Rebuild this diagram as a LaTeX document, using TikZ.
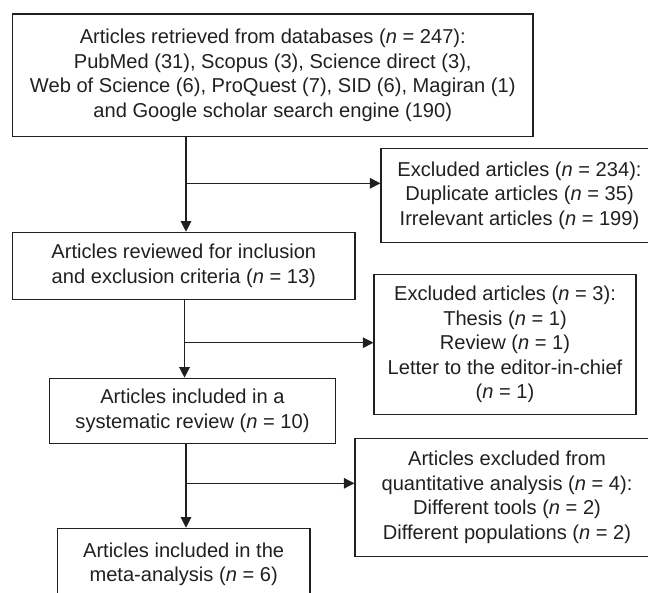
\documentclass[tikz,border=0pt]{standalone}
\usepackage{fontspec}
\setmainfont{Liberation Sans}
\usetikzlibrary{arrows.meta}
\definecolor{ink}{HTML}{231F20}
\begin{document}
\begin{tikzpicture}[x=1pt,y=-1pt,
  box/.style={draw=ink, line width=1.2pt, inner sep=0pt, align=center, text=ink,
    font=\fontsize{20.1}{24.5}\selectfont},
  arr/.style={draw=ink, line width=1.2pt, -{Triangle[length=10.5pt,width=10.5pt]}}]
\useasboundingbox (0,0) rectangle (648,592);
\node[box, minimum width=520.5pt, minimum height=122.5pt] (b1) at (272.75,75.25)
  {Articles retrieved from databases (\textit{n} = 247):\\
   PubMed (31), Scopus (3), Science direct (3),\\
   Web of Science (6), ProQuest (7), SID (6), Magiran (1)\\
   and Google scholar search engine (190)};
\node[box, minimum width=277pt, minimum height=94.4pt] (e1) at (519.5,195.5)
  {Excluded articles (\textit{n} = 234):\\
   Duplicate articles (\textit{n} = 35)\\
   Irrelevant articles (\textit{n} = 199)};
\node[box, minimum width=342.3pt, minimum height=67pt] (b2) at (183.85,265.8)
  {Articles reviewed for inclusion\\
   and exclusion criteria (\textit{n} = 13)};
\node[box, minimum width=262pt, minimum height=140pt] (e2) at (505,344.3)
  {Excluded articles (\textit{n} = 3):\\
   Thesis (\textit{n} = 1)\\
   Review (\textit{n} = 1)\\
   Letter to the editor-in-chief\\
   (\textit{n} = 1)};
\node[box, minimum width=285.7pt, minimum height=65pt] (b3) at (192.5,410.8)
  {Articles included in a\\
   systematic review (\textit{n} = 10)};
\node[box, minimum width=304pt, minimum height=118.4pt] (e3) at (507,497.5)
  {Articles excluded from\\
   quantitative analysis (\textit{n} = 4):\\
   Different tools (\textit{n} = 2)\\
   Different populations (\textit{n} = 2)};
\node[box, minimum width=252.7pt, minimum height=71.7pt] (b4) at (183.65,564.15)
  {Articles included in the\\
   meta-analysis (\textit{n} = 6)};
\coordinate (j1) at (186,183.3);
\coordinate (j2) at (184.5,342.7);
\coordinate (j3) at (186,483.3);
\draw[arr] (b1.south -| j1) -- (b2.north -| j1);
\draw[arr] (j1) -- (j1 -| e1.west);
\draw[arr] (b2.south -| j2) -- (b3.north -| j2);
\draw[arr] (j2) -- (j2 -| e2.west);
\draw[arr] (b3.south -| j3) -- (b4.north -| j3);
\draw[arr] (j3) -- (j3 -| e3.west);
\end{tikzpicture}
\end{document}
